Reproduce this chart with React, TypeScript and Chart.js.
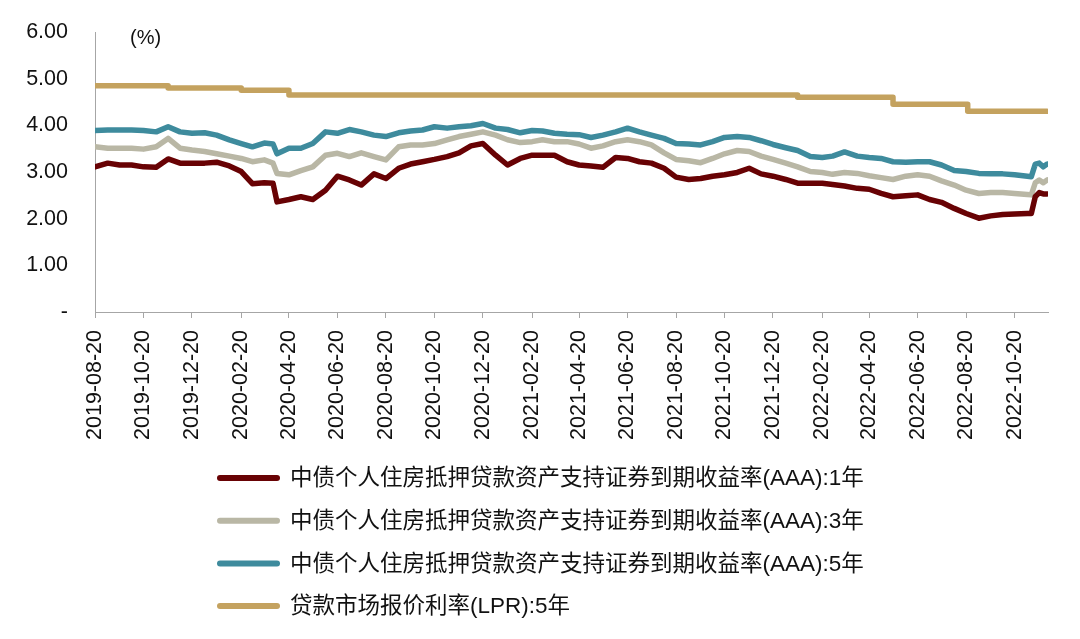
import React, { useEffect, useRef } from 'react';
import { Chart, registerables } from 'chart.js';

Chart.register(...registerables);

const FONT = '"Liberation Sans", Arial, "Noto Sans CJK SC", sans-serif';

const startDate = '2019-08-20';
const endDate = '2022-12-01';

const tickLabels = [
  '2019-08-20', '2019-10-20', '2019-12-20', '2020-02-20', '2020-04-20', '2020-06-20',
  '2020-08-20', '2020-10-20', '2020-12-20', '2021-02-20', '2021-04-20', '2021-06-20',
  '2021-08-20', '2021-10-20', '2021-12-20', '2022-02-20', '2022-04-20', '2022-06-20',
  '2022-08-20', '2022-10-20',
];

const dates = [
  '2019-08-20', '2019-09-05', '2019-09-20', '2019-10-05', '2019-10-20', '2019-11-05',
  '2019-11-20', '2019-12-05', '2019-12-20', '2020-01-05', '2020-01-20', '2020-02-05',
  '2020-02-20', '2020-03-05', '2020-03-20', '2020-03-31', '2020-04-05', '2020-04-20',
  '2020-05-05', '2020-05-20', '2020-06-05', '2020-06-20', '2020-07-05', '2020-07-20',
  '2020-08-05', '2020-08-20', '2020-09-05', '2020-09-20', '2020-10-05', '2020-10-20',
  '2020-11-05', '2020-11-20', '2020-12-05', '2020-12-20', '2021-01-05', '2021-01-20',
  '2021-02-05', '2021-02-20', '2021-03-05', '2021-03-20', '2021-04-05', '2021-04-20',
  '2021-05-05', '2021-05-20', '2021-06-05', '2021-06-20', '2021-07-05', '2021-07-20',
  '2021-08-05', '2021-08-20', '2021-09-05', '2021-09-20', '2021-10-05', '2021-10-20',
  '2021-11-05', '2021-11-20', '2021-12-05', '2021-12-20', '2022-01-05', '2022-01-20',
  '2022-02-05', '2022-02-20', '2022-03-05', '2022-03-20', '2022-04-05', '2022-04-20',
  '2022-05-05', '2022-05-20', '2022-06-05', '2022-06-20', '2022-07-05', '2022-07-20',
  '2022-08-05', '2022-08-20', '2022-09-05', '2022-09-20', '2022-10-05', '2022-10-20',
  '2022-11-05', '2022-11-10', '2022-11-15', '2022-11-20', '2022-11-25', '2022-11-30',
];

const yield1y = [
  3.11, 3.19, 3.15, 3.15, 3.11, 3.10, 3.28, 3.19, 3.19, 3.19, 3.21, 3.13,
  3.01, 2.75, 2.77, 2.76, 2.36, 2.41, 2.47, 2.41, 2.61, 2.91, 2.83, 2.72,
  2.96, 2.86, 3.08, 3.17, 3.22, 3.27, 3.33, 3.41, 3.56, 3.61, 3.36, 3.15,
  3.29, 3.36, 3.36, 3.36, 3.22, 3.15, 3.13, 3.10, 3.31, 3.29, 3.22, 3.19,
  3.08, 2.89, 2.84, 2.86, 2.91, 2.94, 2.99, 3.08, 2.96, 2.91, 2.84, 2.76,
  2.76, 2.76, 2.73, 2.70, 2.65, 2.63, 2.54, 2.47, 2.49, 2.51, 2.41, 2.35,
  2.22, 2.11, 2.01, 2.06, 2.09, 2.10, 2.11, 2.11, 2.47, 2.56, 2.53, 2.53,
];

const yield3y = [
  3.54, 3.51, 3.51, 3.51, 3.49, 3.54, 3.72, 3.51, 3.47, 3.44, 3.39, 3.34,
  3.29, 3.22, 3.26, 3.19, 2.97, 2.94, 3.03, 3.11, 3.36, 3.40, 3.33, 3.41,
  3.33, 3.26, 3.54, 3.58, 3.58, 3.61, 3.69, 3.76, 3.81, 3.86, 3.79, 3.69,
  3.63, 3.65, 3.69, 3.65, 3.65, 3.60, 3.51, 3.56, 3.65, 3.69, 3.65, 3.58,
  3.41, 3.27, 3.24, 3.20, 3.29, 3.39, 3.46, 3.44, 3.34, 3.27, 3.19, 3.11,
  3.01, 2.99, 2.95, 2.99, 2.97, 2.92, 2.88, 2.84, 2.91, 2.94, 2.91, 2.81,
  2.72, 2.61, 2.54, 2.56, 2.56, 2.54, 2.52, 2.51, 2.77, 2.83, 2.77, 2.83,
];

const yield5y = [
  3.89, 3.90, 3.90, 3.90, 3.89, 3.86, 3.97, 3.86, 3.83, 3.84, 3.79, 3.69,
  3.61, 3.54, 3.62, 3.60, 3.39, 3.51, 3.51, 3.61, 3.86, 3.83, 3.91, 3.86,
  3.79, 3.76, 3.84, 3.88, 3.90, 3.97, 3.94, 3.97, 3.99, 4.04, 3.94, 3.91,
  3.84, 3.89, 3.88, 3.83, 3.81, 3.80, 3.74, 3.79, 3.86, 3.94, 3.86, 3.79,
  3.72, 3.61, 3.60, 3.58, 3.65, 3.74, 3.76, 3.74, 3.67, 3.59, 3.52, 3.46,
  3.33, 3.31, 3.34, 3.43, 3.34, 3.31, 3.29, 3.22, 3.21, 3.22, 3.22, 3.15,
  3.03, 3.01, 2.97, 2.96, 2.96, 2.94, 2.91, 2.90, 3.17, 3.19, 3.11, 3.17,
];

const lprDates = ['2019-08-20', '2019-11-20', '2020-02-20', '2020-04-20', '2022-01-20', '2022-05-20', '2022-08-22', '2022-11-30'];
const lprValues = [4.85, 4.80, 4.75, 4.65, 4.60, 4.45, 4.30, 4.30];

const seriesNames = [
  '中债个人住房抵押贷款资产支持证券到期收益率(AAA):1年',
  '中债个人住房抵押贷款资产支持证券到期收益率(AAA):3年',
  '中债个人住房抵押贷款资产支持证券到期收益率(AAA):5年',
  '贷款市场报价利率(LPR):5年',
];
const seriesColors = ['#680204', '#B9B7A5', '#3E8B9D', '#C4A25F'];

const yUnit = '(%)';

const toDay = (s: string) =>
  (Date.parse(s + 'T00:00:00Z') - Date.parse(startDate + 'T00:00:00Z')) / 86400000;

const overlayPlugin = {
  id: 'overlay',
  afterDraw(chart: any) {
    const ctx = chart.ctx;
    ctx.save();
    ctx.fillStyle = '#111';
    ctx.font = `20px ${FONT}`;
    ctx.textAlign = 'left';
    ctx.textBaseline = 'middle';
    ctx.fillText(yUnit, 130, 38);

    const ds = chart.data.datasets;
    ctx.font = `22.5px ${FONT}`;
    for (let i = 0; i < ds.length; i++) {
      const y = 478 + i * 42.7;
      ctx.strokeStyle = ds[i].borderColor;
      ctx.lineWidth = 6;
      ctx.lineCap = 'round';
      ctx.beginPath();
      ctx.moveTo(220, y);
      ctx.lineTo(277, y);
      ctx.stroke();
      ctx.fillStyle = '#111';
      ctx.fillText(ds[i].label, 290, y + 1);
    }
    ctx.restore();
  },
};

export default function App() {
  const ref = useRef<HTMLCanvasElement>(null);

  useEffect(() => {
    if (!ref.current) return;
    const mk = (vals: number[]) => dates.map((d, i) => ({ x: toDay(d), y: vals[i] }));
    const lpr = lprDates.map((d, i) => ({ x: toDay(d), y: lprValues[i] }));
    const seriesData = [mk(yield1y), mk(yield3y), mk(yield5y), lpr];

    const chart = new Chart(ref.current, {
      type: 'line',
      data: {
        datasets: seriesData.map((data, i) => ({
          label: seriesNames[i],
          data,
          borderColor: seriesColors[i],
          backgroundColor: seriesColors[i],
          borderWidth: 5.5,
          pointRadius: 0,
          tension: 0,
          borderJoinStyle: 'round' as const,
          borderCapStyle: 'round' as const,
          stepped: i === 3 ? true : false,
          fill: false,
        })),
      },
      options: {
        responsive: false,
        animation: false,
        devicePixelRatio: 1,
        layout: { padding: { top: 32, right: 32, left: 0, bottom: 0 } },
        plugins: {
          legend: { display: false },
          tooltip: { enabled: false },
          title: { display: false },
        },
        scales: {
          x: {
            type: 'linear',
            min: 0,
            max: toDay(endDate),
            afterBuildTicks: (scale: any) => {
              scale.ticks = tickLabels.map((t) => ({ value: toDay(t) }));
            },
            afterFit: (scale: any) => {
              scale.height = 327;
            },
            ticks: {
              autoSkip: false,
              minRotation: 90,
              maxRotation: 90,
              padding: 12,
              color: '#111',
              font: { family: FONT, size: 21.5 },
              callback: (_v: any, index: number) => tickLabels[index],
            },
            grid: {
              drawOnChartArea: false,
              drawTicks: true,
              tickLength: 6,
              color: '#A6A6A6',
              lineWidth: 1,
            },
            border: { display: true, color: '#A6A6A6', width: 1 },
          },
          y: {
            min: 0,
            max: 6,
            afterFit: (scale: any) => {
              scale.width = 95;
            },
            ticks: {
              stepSize: 1,
              padding: 0,
              color: '#111',
              font: { family: FONT, size: 21.5 },
              callback: (v: any) => (Number(v) === 0 ? '-' : Number(v).toFixed(2)),
            },
            grid: {
              drawOnChartArea: false,
              drawTicks: true,
              tickLength: 27,
              tickColor: 'rgba(0,0,0,0)',
            },
            border: { display: true, color: '#A6A6A6', width: 1 },
          },
        },
      },
      plugins: [overlayPlugin],
    } as any);

    return () => chart.destroy();
  }, []);

  return (
    <div style={{ position: 'absolute', left: 0, top: 0, width: 1080, height: 639, background: '#fff' }}>
      <canvas ref={ref} width={1080} height={639} style={{ width: 1080, height: 639, display: 'block' }} />
    </div>
  );
}
